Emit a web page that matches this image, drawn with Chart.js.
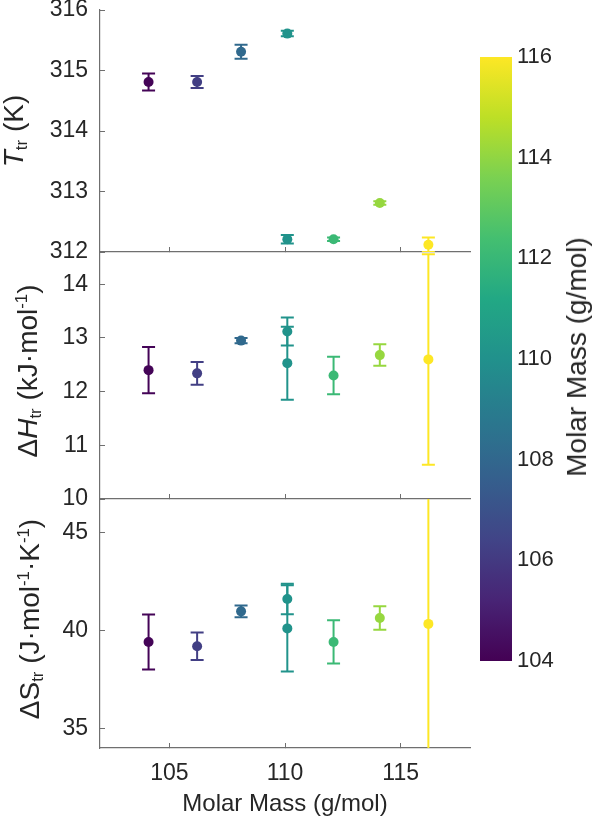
<!DOCTYPE html>
<html><head><meta charset="utf-8">
<script src="https://cdn.jsdelivr.net/npm/chart.js@4.4.0/dist/chart.umd.min.js"></script>
<style>
html,body{margin:0;padding:0;background:#fff;}
#wrap{position:relative;width:599px;height:822px;overflow:hidden;font-family:'Liberation Sans',Arial,sans-serif;color:#262626;}
canvas{position:absolute;left:0;}
.ylab{position:absolute;white-space:nowrap;font-size:28px;line-height:1;transform:translate(-50%,-50%) rotate(-90deg);}
.ylab sub,.ylab sup{font-size:0.6em;line-height:0;}
.ylab sub{vertical-align:-0.25em;}
.ylab sup{vertical-align:0.6em;}
</style></head>
<body><div id="wrap">
<canvas id="c1" width="599" height="270" style="top:0px;width:599px;height:270px"></canvas>
<canvas id="c2" width="599" height="280" style="top:242px;width:599px;height:280px"></canvas>
<canvas id="c3" width="599" height="333" style="top:489px;width:599px;height:333px"></canvas>
<canvas id="c4" width="130" height="640" style="left:440px;top:40px;width:130px;height:640px"></canvas>
<div class="ylab" style="left:14px;top:131px"><i>T</i><sub>tr</sub> (K)</div>
<div class="ylab" style="left:28px;top:371px">Δ<i>H</i><sub>tr</sub> (kJ·mol<sup>-1</sup>)</div>
<div class="ylab" style="left:30px;top:619px">ΔS<sub>tr</sub> (J·mol<sup>-1</sup>·K<sup>-1</sup>)</div>
<div class="ylab" style="left:577px;top:357px">Molar Mass (g/mol)</div>
</div>
<script>
// ---------------- data ----------------
const molarMass = [104.1, 106.2, 108.1, 110.1, 110.1, 112.1, 114.1, 116.2];
const Ttr      = [314.81, 314.81, 315.31, 315.61, 312.21, 312.21, 312.81, 312.12];
const TtrErr   = [0.14, 0.10, 0.115, 0.045, 0.07, 0.03, 0.03, 0.12];
const dHtr     = [12.40, 12.34, 12.95, 13.12, 12.53, 12.30, 12.68, 12.60];
const dHtrErr  = [0.43, 0.21, 0.05, 0.26, 0.68, 0.35, 0.20, 1.96];
const dStr     = [39.41, 39.19, 40.97, 41.60, 40.10, 39.41, 40.63, 40.33];
const dStrErr  = [1.40, 0.70, 0.30, 0.78, 2.20, 1.10, 0.60, 7.00];
const xTicks   = [105, 110, 115];
const TTicks   = [312, 313, 314, 315, 316];
const HTicks   = [10, 11, 12, 13, 14];
const STicks   = [35, 40, 45];
const cbTicks  = [104, 106, 108, 110, 112, 114, 116];
const cbRange  = [104, 116];

// ---------------- styling ----------------
const FONT = "'Liberation Sans', Arial, sans-serif";
const TXT = '#262626';
const AXIS = '#6f6f6f';
const VIRIDIS = ['#440154','#482475','#414487','#355f8d','#2a788e','#21918c','#22a884','#44bf70','#7ad151','#bddf26','#fde725'];
function hex2rgb(h){return [parseInt(h.slice(1,3),16),parseInt(h.slice(3,5),16),parseInt(h.slice(5,7),16)];}
function viridis(t){
  t = Math.max(0, Math.min(1, t));
  const s = t * (VIRIDIS.length - 1);
  const i = Math.min(Math.floor(s), VIRIDIS.length - 2);
  const f = s - i;
  const a = hex2rgb(VIRIDIS[i]), b = hex2rgb(VIRIDIS[i+1]);
  const c = a.map((v,k)=>Math.round(v + (b[k]-v)*f));
  return 'rgb(' + c.join(',') + ')';
}
const colors = molarMass.map(m => viridis((m - cbRange[0]) / (cbRange[1] - cbRange[0])));

const errorBarPlugin = {
  id: 'errorBars',
  beforeDatasetsDraw(chart) {
    const {ctx, chartArea} = chart;
    const xs = chart.scales.x, ys = chart.scales.y;
    ctx.save();
    ctx.beginPath();
    ctx.rect(chartArea.left, chartArea.top, chartArea.right - chartArea.left, chartArea.bottom - chartArea.top);
    ctx.clip();
    chart.data.datasets.forEach(ds => {
      if (!ds.errorBars) return;
      ds.data.forEach((p, i) => {
        const e = ds.errorBars[i];
        const x = xs.getPixelForValue(p.x);
        const y1 = ys.getPixelForValue(p.y + e);
        const y2 = ys.getPixelForValue(p.y - e);
        const cap = 6.5;
        ctx.strokeStyle = ds.pointBackgroundColor[i];
        ctx.lineWidth = 2;
        ctx.beginPath();
        ctx.moveTo(x, y1); ctx.lineTo(x, y2);
        ctx.moveTo(x - cap, y1); ctx.lineTo(x + cap, y1);
        ctx.moveTo(x - cap, y2); ctx.lineTo(x + cap, y2);
        ctx.stroke();
      });
    });
    ctx.restore();
  }
};

function yScale(min, max, ticks) {
  return {
    type: 'linear', position: 'left', min, max,
    afterBuildTicks: s => { s.ticks = ticks.map(v => ({value: v})); },
    afterFit: s => { s.width = 100; s.paddingTop = 0; s.paddingBottom = 0; },
    grid: {drawOnChartArea: false, drawTicks: true, tickLength: -5, color: AXIS, lineWidth: 1},
    border: {display: true, color: AXIS, width: 1.2},
    ticks: {color: TXT, font: {family: FONT, size: 23}, padding: 17}
  };
}
function xScale(showLabels, h) {
  return {
    type: 'linear', position: 'bottom', min: 102, max: 118,
    afterBuildTicks: s => { s.ticks = xTicks.map(v => ({value: v})); },
    afterFit: s => { s.height = h; s.paddingLeft = 0; s.paddingRight = 0; },
    grid: {drawOnChartArea: false, drawTicks: true, tickLength: -5, color: AXIS, lineWidth: 1},
    border: {display: true, color: AXIS, width: 1.2},
    ticks: {display: showLabels, color: TXT, font: {family: FONT, size: 23}, padding: 17, maxRotation: 0},
    title: {display: showLabels, text: 'Molar Mass (g/mol)', color: TXT, font: {family: FONT, size: 24}, padding: {top: 0, bottom: 3}}
  };
}
function panel(id, vals, errs, ymin, ymax, yticks, showX, xh) {
  return new Chart(document.getElementById(id), {
    type: 'scatter',
    data: {datasets: [{
      data: molarMass.map((m, i) => ({x: m, y: vals[i]})),
      errorBars: errs,
      pointBackgroundColor: colors,
      pointBorderWidth: 0,
      pointRadius: 5,
      showLine: false
    }]},
    options: {
      responsive: false, animation: false, events: [],
      layout: {padding: {left: 0, right: 129, top: 10, bottom: 0}, autoPadding: false},
      plugins: {legend: {display: false}, tooltip: {enabled: false}},
      scales: {x: xScale(showX, xh), y: yScale(ymin, ymax, yticks)}
    },
    plugins: [errorBarPlugin]
  });
}
panel('c1', Ttr, TtrErr, 312, 316, TTicks, false, 18);
panel('c2', dHtr, dHtrErr, 10, 14.6, HTicks, false, 23);
panel('c3', dStr, dStrErr, 34, 46.7, STicks, true, 74);

// colorbar
new Chart(document.getElementById('c4'), {
  type: 'bar',
  data: {labels: [''], datasets: [{
    data: [cbRange],
    borderWidth: 0,
    barPercentage: 1, categoryPercentage: 1,
    backgroundColor: (c) => {
      const ch = c.chart;
      if (!ch.chartArea) return VIRIDIS[5];
      const ys = ch.scales.y;
      const g = ch.ctx.createLinearGradient(0, ys.getPixelForValue(cbRange[0]), 0, ys.getPixelForValue(cbRange[1]));
      VIRIDIS.forEach((col, k) => g.addColorStop(k / (VIRIDIS.length - 1), col));
      return g;
    }
  }]},
  options: {
    responsive: false, animation: false, events: [],
    layout: {padding: {left: 40, right: 0, top: 17, bottom: 19}, autoPadding: false},
    plugins: {legend: {display: false}, tooltip: {enabled: false}},
    scales: {
      x: {display: false},
      y: {
        position: 'right', min: cbRange[0], max: cbRange[1],
        afterBuildTicks: s => { s.ticks = cbTicks.map(v => ({value: v})); },
        afterFit: s => { s.width = 58; s.paddingTop = 0; s.paddingBottom = 0; },
        grid: {display: false, drawTicks: false},
        border: {display: false},
        ticks: {color: TXT, font: {family: FONT, size: 22}, padding: 5}
      }
    }
  }
});
</script>
</body></html>
